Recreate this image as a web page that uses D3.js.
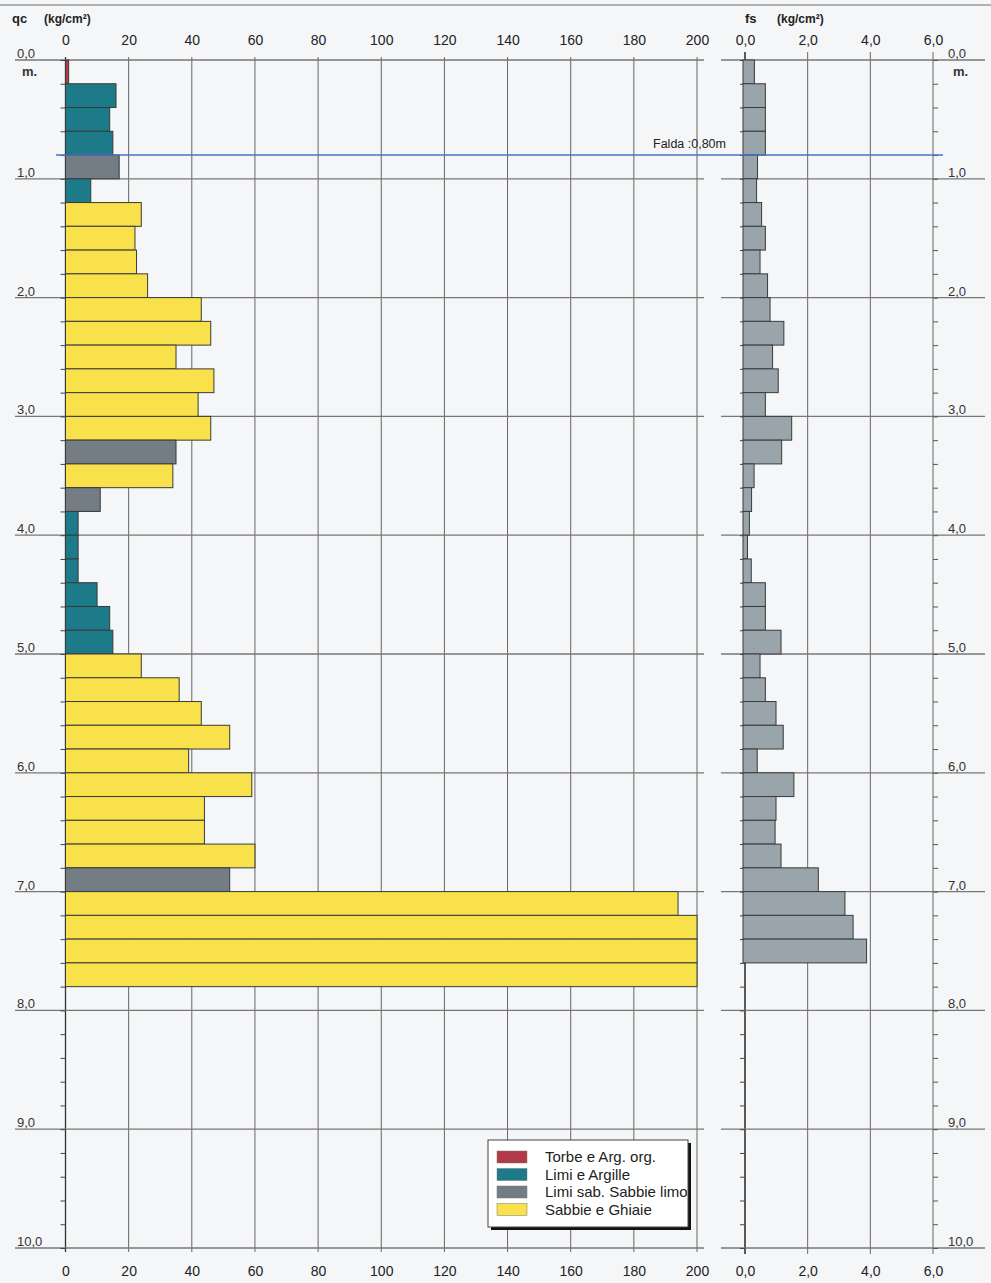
<!DOCTYPE html>
<html>
<head>
<meta charset="utf-8">
<script src="https://cdn.jsdelivr.net/npm/d3@7"></script>
<style>
  body { margin: 0; background: #f5f6f8; }
  svg { display: block; font-family: "Liberation Sans", Arial, sans-serif; }
</style>
</head>
<body>
<svg id="chart" width="991" height="1283"></svg>
<script>
// qc per 0.2 m step, from 0.0 m down to 7.8 m
const qcValues = [1, 16, 14, 15, 17, 8, 24, 22, 22.5, 26,
  43, 46, 35, 47, 42, 46, 35, 34, 11, 4,
  4, 4, 10, 14, 15, 24, 36, 43, 52, 39,
  59, 44, 44, 60, 52, 194, 200, 200, 200];
// soil class of each qc step (T torbe, L limi, S limi sab., G sabbie)
const soilTypes = ['T', 'L', 'L', 'L', 'S', 'L', 'G', 'G', 'G', 'G',
  'G', 'G', 'G', 'G', 'G', 'G', 'S', 'G', 'S', 'L',
  'L', 'L', 'L', 'L', 'L', 'G', 'G', 'G', 'G', 'G',
  'G', 'G', 'G', 'G', 'S', 'G', 'G', 'G', 'G'];
// fs per 0.2 m step, from 0.0 m down to 7.6 m
const fsValues = [0.3, 0.65, 0.65, 0.65, 0.4, 0.37, 0.53, 0.65, 0.48, 0.72,
  0.8, 1.24, 0.88, 1.06, 0.65, 1.49, 1.17, 0.29, 0.21, 0.14,
  0.08, 0.2, 0.65, 0.65, 1.15, 0.48, 0.65, 0.99, 1.22, 0.39,
  1.56, 0.99, 0.96, 1.15, 2.34, 3.19, 3.45, 3.88];
const step = 0.2;
const qcTicks = [0, 20, 40, 60, 80, 100, 120, 140, 160, 180, 200];
const fsTicks = [0, 2, 4, 6];
const depthTicks = [0, 1, 2, 3, 4, 5, 6, 7, 8, 9, 10];
const waterDepth = 0.8;
const legendItems = [
  { key: 'T', label: 'Torbe e Arg. org.' },
  { key: 'L', label: 'Limi e Argille' },
  { key: 'S', label: 'Limi sab. Sabbie limose' },
  { key: 'G', label: 'Sabbie e Ghiaie' }
];

const colors = { T: '#b23a48', L: '#1d7a88', S: '#737d83', G: '#f8e14a' };

const y = d3.scaleLinear().domain([0, 10]).range([60, 1248]);
const xQc = d3.scaleLinear().domain([0, 200]).range([65.5, 697]);
const xFs = d3.scaleLinear().domain([0, 6]).range([745, 933]);
const comma = (d) => d3.format('.1f')(d).replace('.', ',');

const svg = d3.select('#chart');

// frame line on top
svg.append('line')
  .attr('x1', 0).attr('x2', 991).attr('y1', 5).attr('y2', 5)
  .attr('stroke', '#999').attr('stroke-width', 1.5);

// ---- grid
const grid = svg.append('g');
grid.selectAll('.vq')
  .data(qcTicks)
  .enter().append('line')
  .attr('x1', (d) => xQc(d)).attr('x2', (d) => xQc(d))
  .attr('y1', y(0) - 3).attr('y2', y(10) + 4)
  .attr('stroke', (d) => d === 0 ? '#333' : '#666')
  .attr('stroke-width', (d) => d === 0 ? 1.3 : 1);
grid.selectAll('.vf')
  .data(fsTicks)
  .enter().append('line')
  .attr('x1', (d) => xFs(d)).attr('x2', (d) => xFs(d))
  .attr('y1', y(0) - 8).attr('y2', y(10) + 6)
  .attr('stroke', (d) => d === 0 ? '#333' : '#666')
  .attr('stroke-width', (d) => d === 0 ? 1.6 : 1);
grid.selectAll('.hq')
  .data(depthTicks)
  .enter().append('line')
  .attr('x1', 15).attr('x2', 704)
  .attr('y1', (d) => y(d)).attr('y2', (d) => y(d))
  .attr('stroke', '#777').attr('stroke-width', 1.3);
grid.selectAll('.hf')
  .data(depthTicks)
  .enter().append('line')
  .attr('x1', 721).attr('x2', 985)
  .attr('y1', (d) => y(d)).attr('y2', (d) => y(d))
  .attr('stroke', '#777').attr('stroke-width', 1.3);

// minor depth ticks every 0.2 m
const minorAxis = d3.axisLeft(y).ticks(50).tickSize(5).tickFormat('');
svg.append('g').attr('transform', `translate(${xQc(0)},0)`).call(minorAxis)
  .call((g) => g.select('.domain').remove())
  .selectAll('line').attr('stroke', '#444');
svg.append('g').attr('transform', `translate(${xFs(0)},0)`).call(minorAxis)
  .call((g) => g.select('.domain').remove())
  .selectAll('line').attr('stroke', '#444');
svg.append('g').attr('transform', `translate(${xFs(6)},0)`)
  .call(d3.axisRight(y).ticks(50).tickSize(5).tickFormat(''))
  .call((g) => g.select('.domain').remove())
  .selectAll('line').attr('stroke', '#555');

// ---- bars
svg.append('g')
  .selectAll('rect')
  .data(qcValues)
  .enter().append('rect')
  .attr('x', xQc(0))
  .attr('y', (d, i) => y(i * step))
  .attr('width', (d) => xQc(d) - xQc(0))
  .attr('height', y(step) - y(0))
  .attr('fill', (d, i) => colors[soilTypes[i]])
  .attr('stroke', '#3a3a3a')
  .attr('stroke-width', 1);

svg.append('g')
  .selectAll('rect')
  .data(fsValues)
  .enter().append('rect')
  .attr('x', xFs(0) - 2)
  .attr('y', (d, i) => y(i * step))
  .attr('width', (d) => xFs(d) - xFs(0) + 2)
  .attr('height', y(step) - y(0))
  .attr('fill', '#9aa4ab')
  .attr('stroke', '#3a3a3a')
  .attr('stroke-width', 1);

// ---- water table
svg.append('line')
  .attr('x1', 56).attr('x2', 943)
  .attr('y1', y(waterDepth)).attr('y2', y(waterDepth))
  .attr('stroke', '#4a72c4').attr('stroke-width', 1.4);
svg.append('text')
  .attr('x', 726).attr('y', y(waterDepth) - 7)
  .attr('text-anchor', 'end')
  .attr('font-size', 12.5).attr('fill', '#222')
  .text('Falda :' + comma(waterDepth) + '0m');

// ---- axis labels
function labelAxis(axis, yPos) {
  svg.append('g').attr('transform', `translate(0,${yPos})`).call(axis)
    .call((g) => g.select('.domain').remove())
    .selectAll('text').attr('font-size', 14).attr('fill', '#222')
    .attr('font-family', '"Liberation Sans", Arial, sans-serif');
}
labelAxis(d3.axisTop(xQc).tickValues(qcTicks).tickSize(0).tickPadding(0), 45);
labelAxis(d3.axisBottom(xQc).tickValues(qcTicks).tickSize(0).tickPadding(0), 1266);
labelAxis(d3.axisTop(xFs).tickValues(fsTicks).tickSize(0).tickPadding(0).tickFormat(comma), 45);
labelAxis(d3.axisBottom(xFs).tickValues(fsTicks).tickSize(0).tickPadding(0).tickFormat(comma), 1266);

// headers
const head = (x, name) => {
  svg.append('text').attr('x', x).attr('y', 23).attr('font-size', 13).attr('font-weight', 'bold')
    .attr('fill', '#222').text(name);
  svg.append('text').attr('x', x + 32).attr('y', 23).attr('font-size', 12).attr('font-weight', 'bold')
    .attr('fill', '#222').text('(kg/cm²)');
};
head(12, 'qc');
head(745, 'fs');

// depth labels
[17, 948].forEach((lx) => {
  svg.append('g').selectAll('text')
    .data(depthTicks)
    .enter().append('text')
    .attr('x', lx).attr('y', (d) => y(d) - 2)
    .attr('font-size', 13).attr('fill', '#333')
    .text(comma);
  svg.append('text').attr('x', lx + 5).attr('y', 76).attr('font-size', 13).attr('font-weight', 'bold')
    .attr('fill', '#333').text('m.');
});

// ---- legend
const lg = svg.append('g').attr('transform', 'translate(488,1140)');
lg.append('rect').attr('x', 3).attr('y', 3).attr('width', 200).attr('height', 87).attr('fill', '#111');
lg.append('rect').attr('width', 200).attr('height', 87).attr('fill', '#fff').attr('stroke', '#444');
svg.append('clipPath').attr('id', 'lgclip')
  .append('rect').attr('x', 0).attr('y', 0).attr('width', 199).attr('height', 87);
const rows = lg.append('g').attr('clip-path', 'url(#lgclip)');
const row = rows.selectAll('.row')
  .data(legendItems)
  .enter().append('g')
  .attr('transform', (d, i) => `translate(9,${11 + i * 17.5})`);
row.append('rect').attr('width', 30).attr('height', 12)
  .attr('fill', (d) => colors[d.key]).attr('stroke', '#777').attr('stroke-width', 0.5);
row.append('text').attr('x', 48).attr('y', 11).attr('font-size', 15).attr('fill', '#222')
  .text((d) => d.label);
</script>
</body>
</html>
